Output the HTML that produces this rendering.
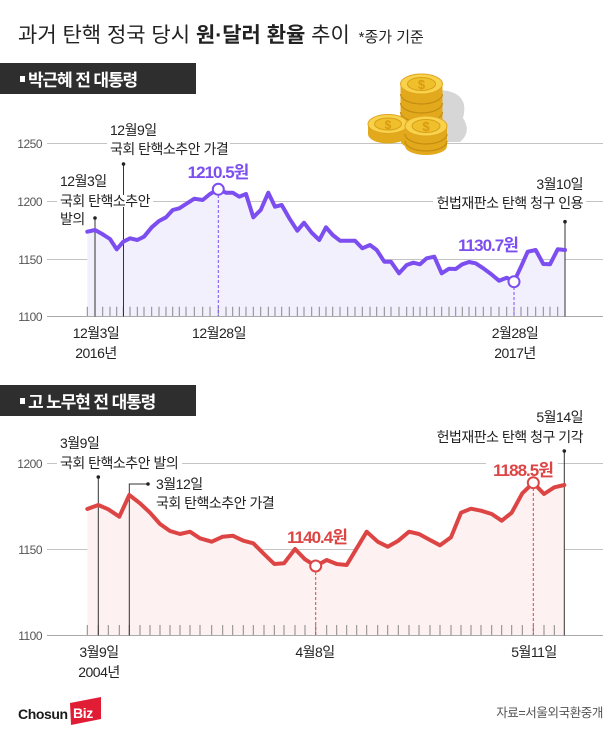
<!DOCTYPE html>
<html><head><meta charset="utf-8"><style>
html,body{margin:0;padding:0;background:#fff;}
svg{display:block;}
text{font-family:"Liberation Sans","Noto Sans CJK KR",sans-serif;}
.ax{font-size:12px;fill:#555;letter-spacing:-0.5px;}
.an{font-size:14px;fill:#222;letter-spacing:-0.5px;}
.xl{font-size:14px;fill:#222;letter-spacing:-0.5px;}
</style></head><body>
<svg width="616" height="737" viewBox="0 0 616 737" xmlns="http://www.w3.org/2000/svg">
<rect width="616" height="737" fill="#fff"/>

<!-- Title -->
<text x="18" y="42" font-size="21" fill="#222">과거 탄핵 정국 당시 <tspan font-weight="bold">원·달러 환율</tspan> 추이 <tspan font-size="15" dx="3">*종가 기준</tspan></text>

<!-- Section 1 label -->
<rect x="0" y="63" width="196" height="31" fill="#2e2e2e"/>
<rect x="20" y="76" width="5" height="6" fill="#fff"/>
<text x="28" y="86" font-size="17" font-weight="bold" fill="#fff" letter-spacing="-1.1">박근혜 전 대통령</text>

<!-- Chart 1 gridlines -->
<g stroke="#c4c4c4" stroke-width="1">
<line x1="47" y1="143.5" x2="603" y2="143.5"/>
<line x1="47" y1="201.5" x2="603" y2="201.5"/>
<line x1="47" y1="259.5" x2="603" y2="259.5"/>
<line x1="47" y1="316.5" x2="603" y2="316.5" stroke="#aaa"/>
</g>
<text class="ax" x="42" y="148" text-anchor="end">1250</text>
<text class="ax" x="42" y="206" text-anchor="end">1200</text>
<text class="ax" x="42" y="264" text-anchor="end">1150</text>
<text class="ax" x="42" y="321" text-anchor="end">1100</text>

<!-- Coins -->
<path d="M440 90 Q470 92 463 118 Q472 132 460 142 L440 142 Z" fill="#d6d6d6"/>
<g>
<rect x="400.5" y="84" width="42" height="56" fill="#e3a91d"/>
<ellipse cx="421.5" cy="140" rx="21" ry="10" fill="#e3a91d"/>
<g fill="none" stroke="#c48c10" stroke-width="1.2">
<path d="M400.5 94 A21 10 0 0 0 442.5 94"/>
<path d="M400.5 103 A21 10 0 0 0 442.5 103"/>
<path d="M400.5 112 A21 10 0 0 0 442.5 112"/>
<path d="M400.5 121 A21 10 0 0 0 442.5 121"/>
<path d="M400.5 130 A21 10 0 0 0 442.5 130"/>
</g>
<ellipse cx="421.5" cy="84" rx="21" ry="10" fill="#f8d24a" stroke="#e0a520" stroke-width="1"/>
<ellipse cx="421.5" cy="84" rx="14" ry="6.5" fill="#efbf2c" stroke="#d99f1a" stroke-width="1"/>
<text x="421.5" y="89" font-size="13" font-weight="bold" fill="#d99a12" text-anchor="middle">$</text>
</g>
<g>
<rect x="368" y="124" width="40" height="10" fill="#e3a91d"/>
<ellipse cx="388" cy="134" rx="20" ry="9.5" fill="#e3a91d"/>
<ellipse cx="388" cy="124" rx="20" ry="9.5" fill="#f8d24a" stroke="#e0a520" stroke-width="1"/>
<ellipse cx="388" cy="124" rx="13.5" ry="6" fill="#efbf2c" stroke="#d99f1a" stroke-width="1"/>
<text x="388" y="129" font-size="12" font-weight="bold" fill="#d99a12" text-anchor="middle">$</text>
</g>
<g>
<rect x="405" y="126" width="42" height="20" fill="#e3a91d"/>
<ellipse cx="426" cy="146" rx="21" ry="9" fill="#e3a91d"/>
<g fill="none" stroke="#c48c10" stroke-width="1.2">
<path d="M405 134 A21 10 0 0 0 447 134"/>
<path d="M405 141 A21 10 0 0 0 447 141"/>
</g>
<ellipse cx="426" cy="126" rx="21" ry="10" fill="#f8d24a" stroke="#e0a520" stroke-width="1"/>
<ellipse cx="426" cy="126" rx="14" ry="6.5" fill="#efbf2c" stroke="#d99f1a" stroke-width="1"/>
<text x="426" y="131" font-size="13" font-weight="bold" fill="#d99a12" text-anchor="middle">$</text>
</g>

<!-- Chart 1 area and line -->
<polygon fill="#f3f0fd" points="87.3,231.7 95,230 102.7,234.3 110,239 116.7,249.3 123.3,241.7 130,238.3 137.3,240 144,236.7 151.7,227.3 159,221 166,217.3 172.7,210 179.3,208.3 186,204 194.3,198.7 202.7,200 210,194 218.3,189.3 226,192.7 232.7,192.7 239.3,196.7 246,194 253.3,217.3 260.7,210 268.3,192.7 275,206.7 281.7,205 289.3,218.3 297.3,230.7 304,222.7 311.7,232.7 319.3,240 326,227.3 332.7,235 340,240.7 347.7,240.7 355,240.7 362.3,248.3 370,245 376.7,250 384.3,261.7 391,261.7 399,273.3 406.7,265 413.3,262.7 420,264.3 426.7,258.3 434.3,256.7 441.7,273.3 449,268.7 455.7,269 462.3,264.3 469,262 475.7,263.3 483.3,268.3 491,274 499,280.7 506.7,277.7 514,281.7 521,266.7 527.7,251.7 535.7,250 543.3,264 550,264.3 557.7,249.3 565,250 565,316 87.3,316"/>
<path stroke="#888" stroke-width="1" fill="none" d="M87.3 306.7V316M95 306.7V316M102.7 306.7V316M110 306.7V316M116.7 306.7V316M123.3 306.7V316M130 306.7V316M137.3 306.7V316M144 306.7V316M151.7 306.7V316M159 306.7V316M166 306.7V316M172.7 306.7V316M179.3 306.7V316M186 306.7V316M194.3 306.7V316M202.7 306.7V316M210 306.7V316M218.3 306.7V316M226 306.7V316M232.7 306.7V316M239.3 306.7V316M246 306.7V316M253.3 306.7V316M260.7 306.7V316M268.3 306.7V316M275 306.7V316M281.7 306.7V316M289.3 306.7V316M297.3 306.7V316M304 306.7V316M311.7 306.7V316M319.3 306.7V316M326 306.7V316M332.7 306.7V316M340 306.7V316M347.7 306.7V316M355 306.7V316M362.3 306.7V316M370 306.7V316M376.7 306.7V316M384.3 306.7V316M391 306.7V316M399 306.7V316M406.7 306.7V316M413.3 306.7V316M420 306.7V316M426.7 306.7V316M434.3 306.7V316M441.7 306.7V316M449 306.7V316M455.7 306.7V316M462.3 306.7V316M469 306.7V316M475.7 306.7V316M483.3 306.7V316M491 306.7V316M499 306.7V316M506.7 306.7V316M514 306.7V316M521 306.7V316M527.7 306.7V316M535.7 306.7V316M543.3 306.7V316M550 306.7V316M557.7 306.7V316"/>

<!-- Chart 1 annotation lines -->
<g stroke="#333" stroke-width="1">
<line x1="95" y1="218" x2="95" y2="316.5"/>
<line x1="123.5" y1="164" x2="123.5" y2="316.5"/>
<line x1="565" y1="221.7" x2="565" y2="316.5"/>
</g>
<g fill="#222">
<circle cx="95" cy="218" r="1.8"/>
<circle cx="123.5" cy="164" r="1.8"/>
<circle cx="565" cy="221.7" r="1.8"/>
</g>
<g stroke="#7c4ef0" stroke-width="1" stroke-dasharray="3,2">
<line x1="218.3" y1="195" x2="218.3" y2="316"/>
<line x1="514" y1="287" x2="514" y2="316"/>
</g>

<polyline fill="none" stroke="#7c4ef0" stroke-width="4" stroke-linejoin="round" stroke-linecap="round" points="87.3,231.7 95,230 102.7,234.3 110,239 116.7,249.3 123.3,241.7 130,238.3 137.3,240 144,236.7 151.7,227.3 159,221 166,217.3 172.7,210 179.3,208.3 186,204 194.3,198.7 202.7,200 210,194 218.3,189.3 226,192.7 232.7,192.7 239.3,196.7 246,194 253.3,217.3 260.7,210 268.3,192.7 275,206.7 281.7,205 289.3,218.3 297.3,230.7 304,222.7 311.7,232.7 319.3,240 326,227.3 332.7,235 340,240.7 347.7,240.7 355,240.7 362.3,248.3 370,245 376.7,250 384.3,261.7 391,261.7 399,273.3 406.7,265 413.3,262.7 420,264.3 426.7,258.3 434.3,256.7 441.7,273.3 449,268.7 455.7,269 462.3,264.3 469,262 475.7,263.3 483.3,268.3 491,274 499,280.7 506.7,277.7 514,281.7 521,266.7 527.7,251.7 535.7,250 543.3,264 550,264.3 557.7,249.3 565,250"/>
<circle cx="218.3" cy="189.3" r="5.5" fill="#fff" stroke="#7c4ef0" stroke-width="2"/>
<circle cx="514" cy="281.7" r="5.5" fill="#fff" stroke="#7c4ef0" stroke-width="2"/>

<!-- Chart 1 text backgrounds -->
<rect x="107" y="137" width="123" height="12" fill="#fff"/>
<rect x="57" y="195" width="96" height="12" fill="#fff"/>
<rect x="433" y="195" width="153" height="12" fill="#fff"/>

<!-- Chart 1 annotations -->
<text class="an" x="110" y="135">12월9일</text>
<text class="an" x="110" y="154">국회 탄핵소추안 가결</text>
<text class="an" x="60" y="186">12월3일</text>
<text class="an" x="60" y="206">국회 탄핵소추안</text>
<text class="an" x="60" y="224">발의</text>
<text class="an" x="583" y="189" text-anchor="end">3월10일</text>
<text class="an" x="583" y="208" text-anchor="end">헌법재판소 탄핵 청구 인용</text>
<text x="218" y="178" font-size="17" font-weight="bold" fill="#7c4ef0" text-anchor="middle" letter-spacing="-1">1210.5원</text>
<text x="488" y="251" font-size="17" font-weight="bold" fill="#7c4ef0" text-anchor="middle" letter-spacing="-1">1130.7원</text>

<!-- Chart 1 x labels -->
<text class="xl" x="96" y="338" text-anchor="middle">12월3일</text>
<text class="xl" x="96" y="358" text-anchor="middle">2016년</text>
<text class="xl" x="219" y="338" text-anchor="middle">12월28일</text>
<text class="xl" x="515" y="338" text-anchor="middle">2월28일</text>
<text class="xl" x="515" y="358" text-anchor="middle">2017년</text>

<!-- Section 2 label -->
<rect x="0" y="385" width="196" height="31" fill="#2e2e2e"/>
<rect x="20" y="398" width="5" height="6" fill="#fff"/>
<text x="28" y="408" font-size="17" font-weight="bold" fill="#fff" letter-spacing="-1.1">고 노무현 전 대통령</text>

<!-- Chart 2 gridlines -->
<g stroke="#c4c4c4" stroke-width="1">
<line x1="47" y1="463.5" x2="603" y2="463.5"/>
<line x1="47" y1="549.5" x2="603" y2="549.5"/>
<line x1="47" y1="635.5" x2="603" y2="635.5" stroke="#aaa"/>
</g>
<text class="ax" x="42" y="468" text-anchor="end">1200</text>
<text class="ax" x="42" y="554" text-anchor="end">1150</text>
<text class="ax" x="42" y="640" text-anchor="end">1100</text>

<polygon fill="#fdf1f1" points="87.3,509 98.3,505 108.3,509.3 119.3,516.7 129.3,495 140,503.3 150,512.7 160,524 170,531 180,534 190,531.7 200,538.3 211.7,541.7 222.7,536.7 232.7,535.7 243.3,540.7 253.3,543.3 264,554 274.3,564 284,563.3 295,549 305,559.3 315.7,566 326.7,560 336.7,564 346.7,565 356.7,548.3 366.7,531.7 377.7,541.7 387.7,546.7 398.3,540.7 409,531.7 419,534 430,540 440,545.3 451,537.3 461,512.7 471,508.7 481,510.7 491.7,514 501.7,520.7 511.7,512.7 522.3,493.3 533.3,482.7 544,494 554.3,487.3 564.3,485 564.3,635 87.3,635"/>
<path stroke="#888" stroke-width="1" fill="none" d="M87.3 625V635M98.3 625V635M108.3 625V635M119.3 625V635M129.3 625V635M140 625V635M150 625V635M160 625V635M170 625V635M180 625V635M190 625V635M200 625V635M211.7 625V635M222.7 625V635M232.7 625V635M243.3 625V635M253.3 625V635M264 625V635M274.3 625V635M284 625V635M295 625V635M305 625V635M315.7 625V635M326.7 625V635M336.7 625V635M346.7 625V635M356.7 625V635M366.7 625V635M377.7 625V635M387.7 625V635M398.3 625V635M409 625V635M419 625V635M430 625V635M440 625V635M451 625V635M461 625V635M471 625V635M481 625V635M491.7 625V635M501.7 625V635M511.7 625V635M522.3 625V635M533.3 625V635M544 625V635M554.3 625V635"/>

<g stroke="#333" stroke-width="1" fill="none">
<line x1="98.3" y1="477" x2="98.3" y2="635.5"/>
<path d="M129.3 635.5V484H148"/>
<line x1="564.3" y1="451" x2="564.3" y2="635.5"/>
</g>
<g fill="#222">
<circle cx="98.3" cy="477" r="1.8"/>
<circle cx="148" cy="484" r="1.8"/>
<circle cx="564.3" cy="451" r="1.8"/>
</g>
<g stroke="#dd4545" stroke-width="1" stroke-dasharray="3,2">
<line x1="315.7" y1="572" x2="315.7" y2="635"/>
<line x1="533.3" y1="488" x2="533.3" y2="635"/>
</g>

<polyline fill="none" stroke="#dd4545" stroke-width="4" stroke-linejoin="round" stroke-linecap="round" points="87.3,509 98.3,505 108.3,509.3 119.3,516.7 129.3,495 140,503.3 150,512.7 160,524 170,531 180,534 190,531.7 200,538.3 211.7,541.7 222.7,536.7 232.7,535.7 243.3,540.7 253.3,543.3 264,554 274.3,564 284,563.3 295,549 305,559.3 315.7,566 326.7,560 336.7,564 346.7,565 356.7,548.3 366.7,531.7 377.7,541.7 387.7,546.7 398.3,540.7 409,531.7 419,534 430,540 440,545.3 451,537.3 461,512.7 471,508.7 481,510.7 491.7,514 501.7,520.7 511.7,512.7 522.3,493.3 533.3,482.7 544,494 554.3,487.3 564.3,485"/>
<circle cx="315.7" cy="566" r="5.5" fill="#fff" stroke="#dd4545" stroke-width="2"/>
<circle cx="533.3" cy="482.7" r="5.5" fill="#fff" stroke="#dd4545" stroke-width="2"/>

<!-- Chart 2 text backgrounds -->
<rect x="57" y="457" width="125" height="12" fill="#fff"/>
<rect x="486" y="457" width="72" height="12" fill="#fff"/>

<!-- Chart 2 annotations -->
<text class="an" x="60" y="448">3월9일</text>
<text class="an" x="60" y="468">국회 탄핵소추안 발의</text>
<text class="an" x="156" y="489">3월12일</text>
<text class="an" x="156" y="508">국회 탄핵소추안 가결</text>
<text class="an" x="583" y="422" text-anchor="end">5월14일</text>
<text class="an" x="583" y="442" text-anchor="end">헌법재판소 탄핵 청구 기각</text>
<text x="523" y="476" font-size="17" font-weight="bold" fill="#dd4545" text-anchor="middle" letter-spacing="-1">1188.5원</text>
<text x="317" y="543" font-size="17" font-weight="bold" fill="#dd4545" text-anchor="middle" letter-spacing="-1">1140.4원</text>

<!-- Chart 2 x labels -->
<text class="xl" x="99" y="657" text-anchor="middle">3월9일</text>
<text class="xl" x="99" y="677" text-anchor="middle">2004년</text>
<text class="xl" x="315" y="657" text-anchor="middle">4월8일</text>
<text class="xl" x="534" y="657" text-anchor="middle">5월11일</text>

<!-- Footer -->
<text x="18" y="719" font-size="14" font-weight="bold" fill="#1a1a1a" letter-spacing="-0.4">Chosun</text>
<polygon points="70,703 101,697 101,719 71,725" fill="#e11d35"/>
<text x="73" y="718" font-size="14" font-weight="bold" fill="#fff" letter-spacing="-0.4">Biz</text>
<text x="603" y="717" font-size="12.5" fill="#555" text-anchor="end" letter-spacing="-0.4">자료=서울외국환중개</text>
</svg>
</body></html>
